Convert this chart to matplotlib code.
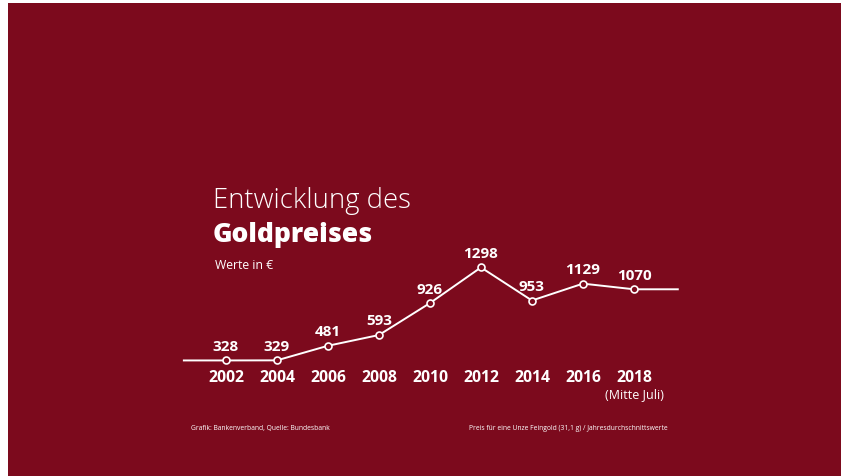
import matplotlib.pyplot as plt
from matplotlib.patches import Rectangle

# Gold price, yearly averages in EUR (2018: mid July)
years = [2002, 2004, 2006, 2008, 2010, 2012, 2014, 2016, 2018]
prices = [328, 329, 481, 593, 926, 1298, 953, 1129, 1070]
year_labels = [str(y) for y in years]

BG = "#7C0A1D"
W, H = 841, 477
plt.rcParams["font.family"] = ["Open Sans", "DejaVu Sans"]

fig = plt.figure(figsize=(W / 100, H / 100), dpi=100, facecolor="white")
fig.add_artist(Rectangle((8 / W, 0), 1, 1 - 4 / H, transform=fig.transFigure,
                         facecolor=BG, edgecolor="none", zorder=0))

ax = fig.add_axes([0, 0, 1, 1])
ax.set_facecolor("none")
ax.axis("off")
ax.set_xlim(1993.14, 2026.12)
ax.set_ylim(-877, 4097)


def px(xp, yp):
    return xp / W, 1 - yp / H


# line, with flat lead-in / lead-out like the original
ext_x = [years[0] - 1.65] + years + [years[-1] + 1.72]
ext_y = [prices[0]] + prices + [prices[-1]]
ax.plot(ext_x, ext_y, color="white", lw=1.4, zorder=2)
ax.plot(years, prices, "o", ms=5, mfc=BG, mec="white", mew=1.2, zorder=3)

# value labels
for x, v in zip(years, prices):
    ax.annotate(str(v), (x, v), xytext=(0, 10.5), textcoords="offset points",
                ha="center", va="center", color="white", fontsize=11,
                fontweight="bold")

# year labels below the line
for x, lab in zip(years, year_labels):
    xf = ax.transData.transform((x, 0))[0] / W
    fig.text(xf, 1 - 378 / H, lab, ha="center", va="center", color="white",
             fontsize=11.3, fontweight="bold")
xf = ax.transData.transform((years[-1], 0))[0] / W
fig.text(xf, 1 - 395 / H, "(Mitte Juli)", ha="center", va="center",
         color="white", fontsize=9)

fig.text(*px(213, 201), "Entwicklung des", ha="left", va="center",
         color="white", fontsize=19.8, fontweight="light")
fig.text(*px(213, 235), "Goldpreises", ha="left", va="center",
         color="white", fontsize=19, fontweight="heavy")
fig.text(*px(215, 266), "Werte in €", ha="left", va="center",
         color="white", fontsize=8.8)

fig.text(*px(191, 429), "Grafik: Bankenverband, Quelle: Bundesbank",
         ha="left", va="center", color="white", fontsize=4.9)
fig.text(*px(469, 429),
         "Preis für eine Unze Feingold (31,1 g) / Jahresdurchschnittswerte",
         ha="left", va="center", color="white", fontsize=4.9)

fig.savefig("out.png", dpi=100, facecolor="white")
